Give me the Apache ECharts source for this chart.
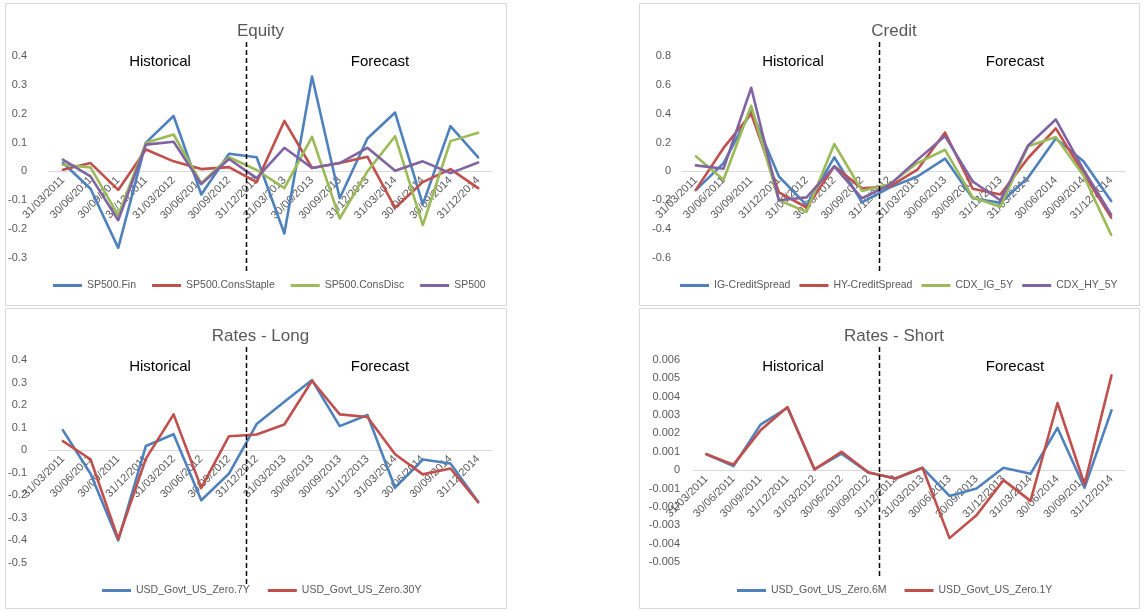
<!DOCTYPE html>
<html>
<head>
<meta charset="utf-8">
<script src="https://cdn.jsdelivr.net/npm/echarts@6/dist/echarts.min.js"></script>
<style>
  html, body { margin: 0; padding: 0; background: #ffffff; }
  #chart { width: 1143px; height: 611px; }
</style>
</head>
<body>
<div id="chart"></div>
<script>
// Quarter-end dates shared by all four panels
const quarters = ['31/03/2011', '30/06/2011', '30/09/2011', '31/12/2011', '31/03/2012', '30/06/2012',
  '30/09/2012', '31/12/2012', '31/03/2013', '30/06/2013', '30/09/2013', '31/12/2013',
  '31/03/2014', '30/06/2014', '30/09/2014', '31/12/2014'];

// Equity
const sp500Fin        = [0.03, -0.06, -0.265, 0.1, 0.192, -0.08, 0.061, 0.049, -0.215, 0.329, -0.093, 0.114, 0.204, -0.114, 0.157, 0.049];
const sp500ConsStaple = [0.006, 0.029, -0.064, 0.076, 0.035, 0.008, 0.015, -0.037, 0.175, 0.012, 0.029, 0.051, -0.126, -0.037, 0.008, -0.058];
const sp500ConsDisc   = [0.023, 0.014, -0.152, 0.099, 0.128, -0.041, 0.049, 0.005, -0.058, 0.12, -0.163, 0.0, 0.122, -0.186, 0.105, 0.134];
const sp500           = [0.041, -0.017, -0.169, 0.093, 0.103, -0.044, 0.043, -0.023, 0.082, 0.012, 0.029, 0.082, 0.002, 0.035, -0.006, 0.031];

// Credit
const igCreditSpread = [-0.13, 0.058, 0.42, -0.035, -0.233, 0.098, -0.214, -0.112, -0.035, 0.089, -0.186, -0.217, -0.042, 0.228, 0.07, -0.205];
const hyCreditSpread = [-0.128, 0.163, 0.4, -0.145, -0.25, 0.035, -0.117, -0.105, 0.012, 0.27, -0.12, -0.16, 0.093, 0.298, -0.012, -0.32];
const cdxIg5Y        = [0.105, -0.058, 0.455, -0.2, -0.28, 0.19, -0.135, -0.089, 0.058, 0.15, -0.18, -0.245, 0.175, 0.238, -0.028, -0.44];
const cdxHy5Y        = [0.042, 0.019, 0.58, -0.2, -0.18, 0.035, -0.186, -0.093, 0.08, 0.245, -0.07, -0.2, 0.18, 0.36, 0.012, -0.30];

// Rates - Long
const usZero7Y  = [0.089, -0.104, -0.4, 0.019, 0.071, -0.222, -0.104, 0.116, 0.215, 0.311, 0.107, 0.156, -0.166, -0.041, -0.059, -0.23];
const usZero30Y = [0.04, -0.04, -0.393, -0.037, 0.159, -0.167, 0.062, 0.07, 0.114, 0.308, 0.159, 0.147, -0.018, -0.107, -0.081, -0.23];

// Rates - Short
const usZero6M = [0.00087, 0.00022, 0.00248, 0.0034, 0.00004, 0.0009, -0.00013, -0.00045, 0.00013, -0.0014, -0.001, 0.00013, -0.0002, 0.0023, -0.00096, 0.00326];
const usZero1Y = [0.00087, 0.0003, 0.00217, 0.00344, 0.00004, 0.001, -0.00013, -0.00045, 0.00013, -0.0037, -0.00245, -0.00054, -0.00167, 0.00366, -0.00078, 0.00516];

const palette = ['#4F81BD', '#C0504D', '#9BBB59', '#8064A2'];
const FONT = 'Liberation Sans, Arial, sans-serif';

// Panel layout: frame, plot area, axis range, legend and annotation positions
const panels = [
  {
    title: 'Equity', box: [5, 3, 501, 302], grid: { left: 49, top: 56, width: 443, height: 202 },
    min: -0.3, max: 0.4, interval: 0.1, labelMargin: 22, legendLeft: 48, legendTop: 278, legendGap: 16,
    names: ['SP500.Fin', 'SP500.ConsStaple', 'SP500.ConsDisc', 'SP500'],
    values: [sp500Fin, sp500ConsStaple, sp500ConsDisc, sp500],
    split: 6.6, splitY: [42, 273], hist: [160, 62], fcst: [380, 62], titleY: 18
  },
  {
    title: 'Credit', box: [639, 3, 500, 302], grid: { left: 682, top: 56, width: 443, height: 202 },
    min: -0.6, max: 0.8, interval: 0.2, labelMargin: 11, legendLeft: 675, legendTop: 278, legendGap: 9,
    names: ['IG-CreditSpread', 'HY-CreditSpread', 'CDX_IG_5Y', 'CDX_HY_5Y'],
    values: [igCreditSpread, hyCreditSpread, cdxIg5Y, cdxHy5Y],
    split: 6.6, splitY: [42, 273], hist: [793, 62], fcst: [1015, 62], titleY: 18
  },
  {
    title: 'Rates - Long', box: [5, 308, 501, 300], grid: { left: 49, top: 360, width: 443, height: 203 },
    min: -0.5, max: 0.4, interval: 0.1, labelMargin: 22, legendLeft: 97, legendTop: 583, legendGap: 18,
    names: ['USD_Govt_US_Zero.7Y', 'USD_Govt_US_Zero.30Y'],
    values: [usZero7Y, usZero30Y],
    split: 6.6, splitY: [347, 587], hist: [160, 367], fcst: [380, 367], titleY: 323
  },
  {
    title: 'Rates - Short', box: [639, 308, 500, 300], grid: { left: 693, top: 360, width: 432, height: 202 },
    min: -0.005, max: 0.006, interval: 0.001, labelMargin: 13, legendLeft: 732, legendTop: 583, legendGap: 18,
    names: ['USD_Govt_US_Zero.6M', 'USD_Govt_US_Zero.1Y'],
    values: [usZero6M, usZero1Y],
    split: 6.4, splitY: [347, 577], hist: [793, 367], fcst: [1015, 367], titleY: 323
  }
];

const chart = echarts.init(document.getElementById('chart'), null, { renderer: 'canvas' });

const option = {
  backgroundColor: '#ffffff',
  animation: false,
  textStyle: { fontFamily: FONT },
  title: panels.map(p => ({
    text: p.title,
    left: p.box[0] + p.box[2] / 2,
    top: p.titleY,
    textAlign: 'center',
    textStyle: { fontFamily: FONT, fontSize: 17, fontWeight: 'normal', color: '#595959' }
  })),
  grid: panels.map(p => Object.assign({ containLabel: false }, p.grid)),
  legend: panels.map(p => ({
    data: p.names,
    left: p.legendLeft,
    top: p.legendTop - 3,
    width: 900,
    orient: 'horizontal',
    icon: 'rect',
    itemWidth: 29,
    itemHeight: 3,
    itemGap: p.legendGap,
    selectedMode: false,
    textStyle: { fontFamily: FONT, fontSize: 10.5, color: '#595959' }
  })),
  // The category axis sits on the zero line: shift it up from the plot bottom by the share of the range below zero
  xAxis: panels.map((p, i) => ({
    type: 'category',
    gridIndex: i,
    data: quarters,
    boundaryGap: true,
    position: 'bottom',
    offset: -p.grid.height * (0 - p.min) / (p.max - p.min),
    axisLine: { onZero: false, lineStyle: { color: '#d9d9d9', width: 1 } },
    axisTick: { show: false },
    splitLine: { show: false },
    axisLabel: { interval: 0, rotate: 45, margin: 7, fontFamily: FONT, fontSize: 11, color: '#595959' }
  })),
  yAxis: panels.map((p, i) => ({
    type: 'value',
    gridIndex: i,
    min: p.min,
    max: p.max,
    interval: p.interval,
    axisLine: { show: false },
    axisTick: { show: false },
    splitLine: { show: false },
    axisLabel: { margin: p.labelMargin, fontFamily: FONT, fontSize: 11, color: '#595959' }
  })),
  series: panels.flatMap((p, i) => p.names.map((name, k) => ({
    name: name,
    type: 'line',
    xAxisIndex: i,
    yAxisIndex: i,
    data: p.values[k],
    symbol: 'none',
    smooth: false,
    color: palette[k],
    lineStyle: { width: 2.6, color: palette[k], cap: 'round', join: 'round' }
  })))
};

chart.setOption(option);

// Frames, Historical/Forecast captions and the dashed divider between them
const graphics = [];
panels.forEach((p, i) => {
  graphics.push({
    type: 'rect', z: 0, silent: true,
    shape: { x: p.box[0] + 0.5, y: p.box[1] + 0.5, width: p.box[2], height: p.box[3] },
    style: { fill: null, stroke: '#d9d9d9', lineWidth: 1 }
  });
  const x0 = chart.convertToPixel({ gridIndex: i }, [Math.floor(p.split), 0])[0];
  const x1 = chart.convertToPixel({ gridIndex: i }, [Math.floor(p.split) + 1, 0])[0];
  const xs = Math.round(x0 + (x1 - x0) * (p.split - Math.floor(p.split))) + 0.5;
  graphics.push({
    type: 'line', z: 10, silent: true,
    shape: { x1: xs, y1: p.splitY[0], x2: xs, y2: p.splitY[1] },
    style: { stroke: '#000000', lineWidth: 1.5, lineDash: [5, 3] }
  });
  [['Historical', p.hist], ['Forecast', p.fcst]].forEach(([label, pos]) => {
    graphics.push({
      type: 'text', z: 10, silent: true,
      x: pos[0], y: pos[1],
      style: { text: label, fontFamily: FONT, fontSize: 15, fill: '#000000', align: 'center', verticalAlign: 'middle' }
    });
  });
});

chart.setOption({ graphic: graphics });
</script>
</body>
</html>
